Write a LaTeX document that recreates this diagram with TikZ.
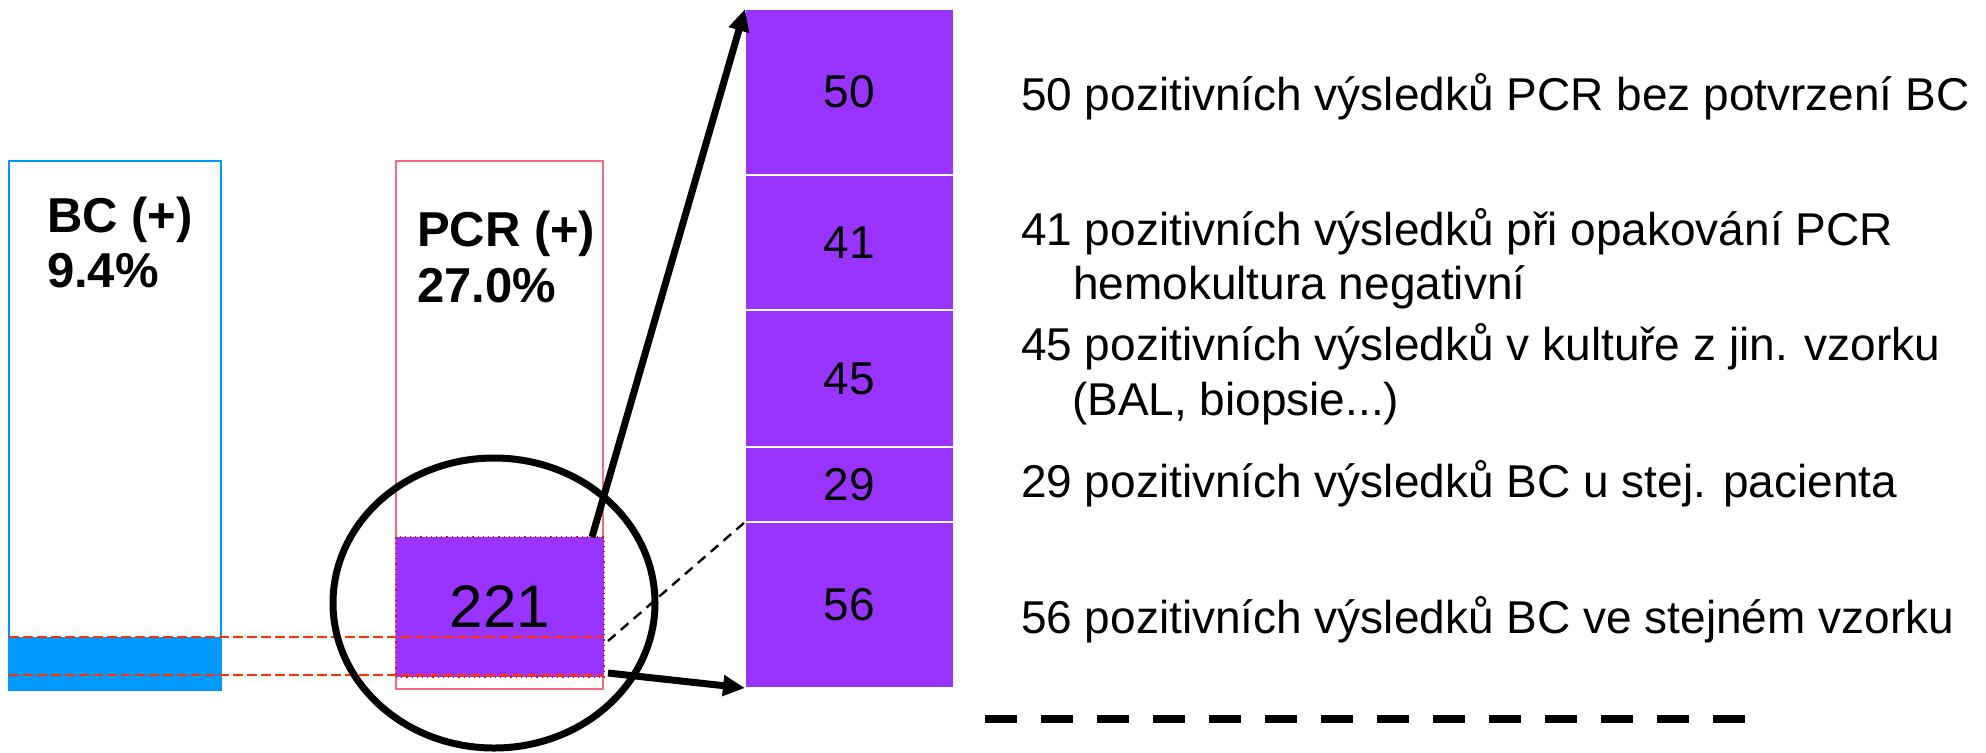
\documentclass[tikz,border=0pt]{standalone}
\usepackage{fontspec}
\setmainfont{Liberation Sans}
\usetikzlibrary{arrows.meta}
\definecolor{bcblue}{HTML}{0099FF}
\definecolor{pcrpink}{HTML}{F26B80}
\definecolor{pcrviolet}{HTML}{9933FF}
\definecolor{guidered}{HTML}{FF3300}

\begin{document}
\begin{tikzpicture}[x=0.5pt,y=-0.5pt]
      \tikzstyle{every node}+=[inner sep=0pt, outer sep=0pt]
      \tikzstyle{seg}=[fill=pcrviolet, draw=white, line width=1.2pt, minimum width=104.5pt, font=\fontsize{23}{27}\selectfont]
      \tikzstyle{note}=[anchor=base west, font=\fontsize{23}{27}\selectfont]
      \tikzstyle{head}=[anchor=base west, font=\fontsize{24.5}{27.5}\selectfont\bfseries]
      \tikzstyle{guide}=[guidered, line width=1pt, dash pattern=on 5pt off 2pt]
      \tikzstyle{pointer}=[line width=3.5pt, -{Triangle[length=11pt,width=10pt]}]
      \useasboundingbox (0,0) rectangle (1986,752);
      \node[fill=bcblue, minimum width=106pt, minimum height=26.5pt] (bcfill) at (115,663.5) {};
      \node[draw=bcblue, line width=0.8pt, minimum width=106pt, minimum height=264.5pt] (bcbox) at (115,425.5) {};
      \node[head] (bclab) at (47,232) {BC (+)};
      \node[head] (bcpct) at (47,287) {9.4\%};
      \node[draw=pcrpink, line width=0.8pt, minimum width=103.5pt, minimum height=264pt] (pcrbox) at (499.5,425) {};
      \node[fill=pcrviolet, draw=red, dotted, line width=0.6pt, minimum width=104pt, minimum height=70pt, font=\fontsize{30}{36}\selectfont] (pcrpos) at (500,607) {221};
      \node[head] (pcrlab) at (417,246) {PCR (+)};
      \node[head] (pcrpct) at (417,302) {27.0\%};
      \coordinate (lowguide) at ([yshift=-19pt]bcfill.north west);
      \draw[guide] (bcfill.north west) -- (bcfill.north west -| pcrbox.east);
      \draw[guide] (lowguide) -- (lowguide -| pcrbox.east);
      \node[seg, minimum height=83pt] (s50) at (849.5,92) {50};
      \node[seg, minimum height=67.5pt] (s41) at (849.5,242.5) {41};
      \node[seg, minimum height=68.5pt] (s45) at (849.5,378.5) {45};
      \node[seg, minimum height=37.5pt] (s29) at (849.5,484.5) {29};
      \node[seg, minimum height=83pt] (s56) at (849.5,605) {56};
      \node[note] (t50) at (1021,110) {50 pozitivních výsledků PCR bez potvrzení BC};
      \node[note] (t41) at (1021,245) {41 pozitivních výsledků při opakování PCR};
      \node[note] (t41b) at (1073,299) {hemokultura negativní};
      \node[note] (t45) at (1021,360) {45 pozitivních výsledků v kultuře z jin. vzorku};
      \node[note] (t45b) at (1072,415) {(BAL, biopsie...)};
      \node[note] (t29) at (1021,497) {29 pozitivních výsledků BC u stej. pacienta};
      \node[note] (t56) at (1021,633) {56 pozitivních výsledků BC ve stejném vzorku};
      \draw[line width=3.5pt] (494,603) ellipse [x radius=80.5pt, y radius=72.5pt];
      \draw[pointer] ([xshift=-6pt]pcrpos.north east) -- (s50.north west);
      \draw[pointer] ([xshift=2pt,yshift=2pt]pcrpos.south east) -- (s56.south west);
      \draw[line width=1.2pt, dash pattern=on 5pt off 3.5pt] ([xshift=2pt,yshift=-17pt]pcrpos.east) -- (s56.north west);
      \draw[line width=4pt, dash pattern=on 16pt off 12pt] (985,719) -- (1746,719);
    \end{tikzpicture}
\end{document}
